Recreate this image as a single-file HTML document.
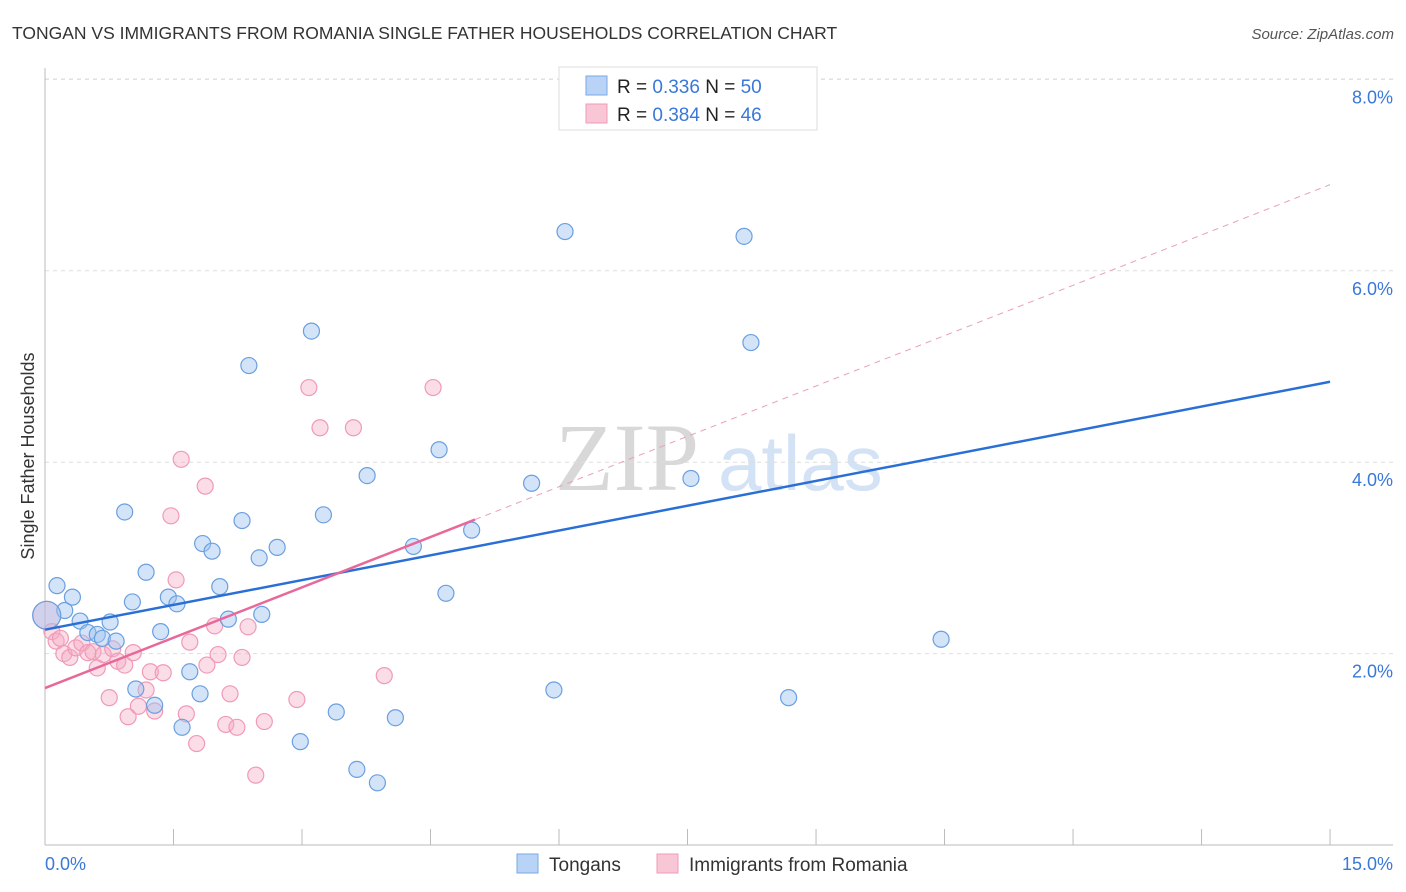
<!DOCTYPE html>
<html><head><meta charset="utf-8"><style>
body{margin:0;background:#fff;font-family:"Liberation Sans",sans-serif;}
svg{display:block}
</style></head><body>
<svg id="chart" width="1406" height="892">
<text x="12" y="39" font-size="17.5" fill="#333">TONGAN VS IMMIGRANTS FROM ROMANIA SINGLE FATHER HOUSEHOLDS CORRELATION CHART</text>
<text x="1394" y="39" font-size="15" fill="#555" font-style="italic" text-anchor="end">Source: ZipAtlas.com</text>
<g>
<text x="555" y="490" font-size="96" font-family="Liberation Serif,serif" fill="#d8d8d8">ZIP</text>
<text x="718" y="490" font-size="78" fill="#d3e2f4">atlas</text>
</g>
<g id="grid"></g><g id="axes"></g>
<g id="pts"></g><g id="lines"></g>
<text transform="translate(34,456) rotate(-90)" font-size="18" fill="#333" text-anchor="middle">Single Father Households</text>
<g>
<rect x="559" y="67" width="258" height="63" fill="#fff" stroke="#ddd"/>
<rect x="586" y="76" width="21" height="19" fill="#b8d3f5" stroke="#7aa8e6"/>
<rect x="586" y="104" width="21" height="19" fill="#f9c6d6" stroke="#f09ab8"/>
<text x="617" y="93" font-size="19" fill="#222">R = <tspan fill="#3a78d8">0.336</tspan>   N = <tspan fill="#3a78d8">50</tspan></text>
<text x="617" y="121" font-size="19" fill="#222">R = <tspan fill="#3a78d8">0.384</tspan>   N = <tspan fill="#3a78d8">46</tspan></text>
</g>
<g>
<rect x="517" y="854" width="21" height="19" fill="#b8d3f5" stroke="#7aa8e6"/>
<text x="549" y="871" font-size="19" fill="#333">Tongans</text>
<rect x="657" y="854" width="21" height="19" fill="#f9c6d6" stroke="#f09ab8"/>
<text x="689" y="871" font-size="19" fill="#333">Immigrants from Romania</text>
</g>
</svg>
<script>
const yTicks=[2,4,6,8];
const yTickLabels=["2.0%","4.0%","6.0%","8.0%"];
const xTicks=[0,1.5,3,4.5,6,7.5,9,10.5,12,13.5,15];
const xTickLabels=["0.0%","15.0%"];
const tongX=[0.14,0.23,0.32,0.41,0.50,0.61,0.67,0.76,0.83,0.93,1.02,1.06,1.18,1.28,1.35,1.44,1.54,1.60,1.69,1.81,1.84,1.95,2.04,2.14,2.30,2.38,2.50,2.53,2.71,2.98,3.11,3.25,3.40,3.64,3.76,3.88,4.09,4.30,4.60,4.68,4.98,5.68,5.94,6.07,7.54,8.16,8.24,8.68,10.46,0.02];
const tongY=[2.71,2.45,2.59,2.34,2.22,2.20,2.16,2.33,2.13,3.48,2.54,1.63,2.85,1.46,2.23,2.59,2.52,1.23,1.81,1.58,3.15,3.07,2.70,2.36,3.39,5.01,3.00,2.41,3.11,1.08,5.37,3.45,1.39,0.79,3.86,0.65,1.33,3.12,4.13,2.63,3.29,3.78,1.62,6.41,3.83,6.36,5.25,1.54,2.15,2.40];
const romX=[0.02,0.08,0.13,0.18,0.22,0.29,0.36,0.43,0.50,0.56,0.61,0.68,0.75,0.79,0.85,0.93,0.97,1.03,1.09,1.18,1.23,1.28,1.38,1.47,1.53,1.59,1.65,1.69,1.77,1.87,1.89,1.98,2.02,2.11,2.16,2.24,2.30,2.37,2.46,2.56,2.94,3.08,3.21,3.60,3.96,4.53];
const romY=[2.40,2.23,2.13,2.16,2.00,1.96,2.06,2.11,2.01,2.02,1.85,1.99,1.54,2.05,1.92,1.88,1.34,2.01,1.45,1.62,1.81,1.40,1.80,3.44,2.77,4.03,1.37,2.12,1.06,3.75,1.88,2.29,1.99,1.26,1.58,1.23,1.96,2.28,0.73,1.29,1.52,4.78,4.36,4.36,1.77,4.78];
const tongLine=[2.25,0.1727];
const romLine=[1.64,0.3507];
const ns="http://www.w3.org/2000/svg";
const X=v=>45+v*85.67, Y=v=>845-v*95.7;
function mk(p,t,a){const e=document.createElementNS(ns,t);for(const k in a)e.setAttribute(k,a[k]);document.getElementById(p).appendChild(e);return e;}
yTicks.forEach((t,i)=>{
 let g=mk('grid','line',{x1:45,x2:1393,y1:Y(t),y2:Y(t),stroke:'#ddd','stroke-dasharray':'4,4'});
 
 
 let l=mk('axes','text',{x:1393,y:Y(t)+24,'font-size':18,fill:'#3a78d8','text-anchor':'end'});l.textContent=yTickLabels[i];
 
 
});
let tg=mk('grid','line',{x1:45,x2:1393,y1:79,y2:79,stroke:'#ddd','stroke-dasharray':'4,4'});


let ax=mk('axes','line',{x1:45,x2:45,y1:68,y2:845,stroke:'#bbb'});


let bx=mk('axes','line',{x1:45,x2:1393,y1:845,y2:845,stroke:'#bbb'});


xTicks.forEach(t=>{let k=mk('axes','line',{x1:X(t),x2:X(t),y1:829,y2:845,stroke:'#bbb'});
 
 });
let x0=mk('axes','text',{x:45,y:870,'font-size':18,fill:'#3a78d8'});x0.textContent=xTickLabels[0];


let x1=mk('axes','text',{x:1393,y:870,'font-size':18,fill:'#3a78d8','text-anchor':'end'});x1.textContent=xTickLabels[1];


romX.forEach((v,i)=>{let c=mk('pts','circle',{cx:X(v),cy:Y(romY[i]),r:i==0?14:8,fill:'rgba(245,170,195,0.4)',stroke:'#f09ab8','stroke-width':1.2});
 
 });
tongX.forEach((v,i)=>{let c=mk('pts','circle',{cx:X(v),cy:Y(tongY[i]),r:i==49?14:8,fill:'rgba(160,196,240,0.45)',stroke:'#6a9fe0','stroke-width':1.2});
 
 });
let bl=mk('lines','line',{x1:X(0),y1:Y(tongLine[0]),x2:X(15),y2:Y(tongLine[0]+15*tongLine[1]),stroke:'#2a6fd6','stroke-width':2.5});


let pd=mk('lines','line',{x1:X(5.02),y1:Y(romLine[0]+5.02*romLine[1]),x2:X(15),y2:Y(romLine[0]+15*romLine[1]),stroke:'#e8a0b8','stroke-width':1,'stroke-dasharray':'6,5'});


let pl=mk('lines','line',{x1:X(0),y1:Y(romLine[0]),x2:X(5.02),y2:Y(romLine[0]+5.02*romLine[1]),stroke:'#e8689a','stroke-width':2.5});


</script>
</body></html>
